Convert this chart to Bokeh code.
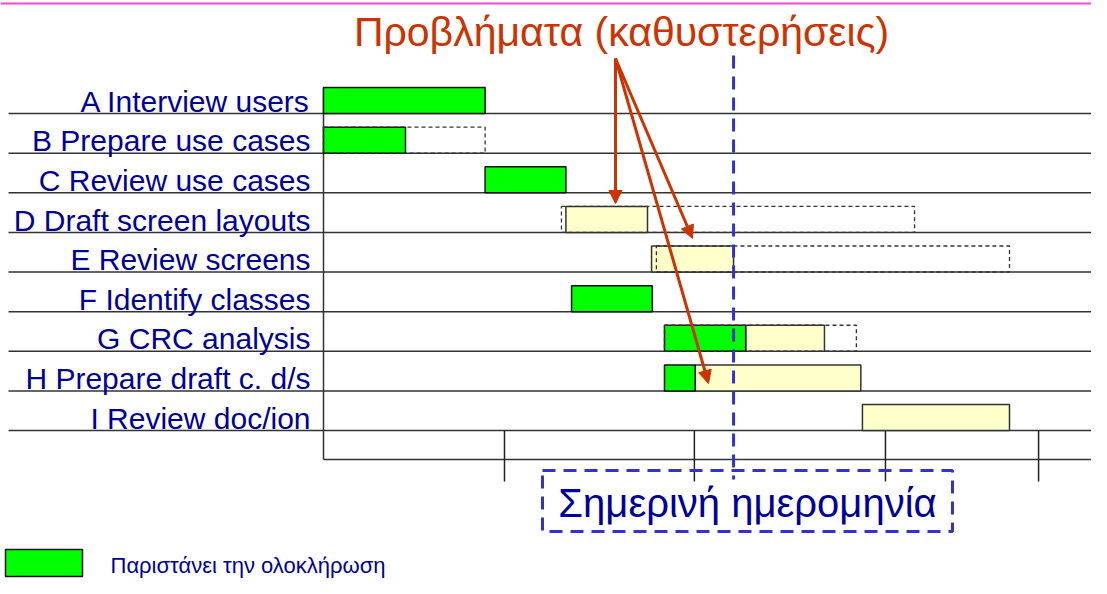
from bokeh.plotting import figure
from bokeh.models import Range1d, ColumnDataSource, Arrow, NormalHead, BoxAnnotation
from bokeh.core.properties import value
from bokeh.embed import file_html
from bokeh.resources import INLINE

# ---------------- data ----------------
tasks = ["A Interview users", "B Prepare use cases", "C Review use cases",
         "D Draft screen layouts", "E Review screens", "F Identify classes",
         "G CRC analysis", "H Prepare draft c. d/s", "I Review doc/ion"]

# time unit: weeks from project start; rows: index into tasks
done_rows = [0, 1, 2, 5, 6, 7]
done_start = [0.0, 0.0, 4.0, 6.14, 8.44, 8.44]
done_end = [4.0, 2.03, 6.0, 8.14, 10.45, 9.2]

late_rows = [3, 4, 6, 7, 8]
late_start = [6.0, 8.12, 10.45, 9.2, 13.34]
late_end = [8.02, 10.15, 12.4, 13.3, 16.98]

plan_rows = [1, 3, 4, 6]
plan_start = [0.0, 5.89, 8.24, 8.44]
plan_end = [4.0, 14.63, 16.98, 13.19]

today = 10.15
period_ticks = [4.48, 9.18, 13.91, 17.7]

title_text = "Προβλήματα (καθυστερήσεις)"
today_text = "Σημερινή ημερομηνία"
legend_text = "Παριστάνει την ολοκλήρωση"

# ---------------- layout ----------------
W, H = 1091, 578
PXW = 40.4      # px per week
PXR = 39.625    # px per row
X0, Y0 = 323, 113   # px of week 0 / row-0 line


def fx(X):
    return (X - X0) / PXW


def fy(Y):
    return (Y - Y0) / PXR


def base(Y, size):
    # compensate for the renderer placing the alphabetic baseline lower
    return fy(Y - 0.31 * size)


BAR_H = 26 / PXR
FONT = value("Liberation Sans")
BLUE_TXT = "#000099"
RED = "#cc3300"
DASH_BLUE = "#3333cc"

p = figure(width=W, height=H, output_backend="svg", toolbar_location=None,
           x_range=Range1d(fx(0), fx(W)), y_range=Range1d(fy(H), fy(0)),
           x_axis_location=None, y_axis_location=None,
           min_border=0, min_border_left=0, min_border_right=0,
           min_border_top=0, min_border_bottom=0,
           background_fill_color="white", border_fill_color="white",
           outline_line_color=None)
p.xgrid.visible = False
p.ygrid.visible = False

rows = list(range(len(tasks)))
scale_bottom = len(tasks) - 1 + 29 / PXR

# pink slide rule at top
p.segment(x0=[fx(0)], x1=[fx(W)], y0=[fy(3)], y1=[fy(3)],
          line_color="#ff44cc", line_width=2)

# row lines
p.segment(x0=[fx(8)] * len(rows), x1=[fx(W)] * len(rows), y0=rows, y1=rows,
          line_color="#333333", line_width=1.5)
# time scale bottom line and left line
p.segment(x0=[0], x1=[fx(W)], y0=[scale_bottom], y1=[scale_bottom],
          line_color="#333333", line_width=1.5)
p.segment(x0=[0], x1=[0], y0=[-BAR_H], y1=[scale_bottom],
          line_color="#333333", line_width=1.5)
# period ticks
p.segment(x0=period_ticks, x1=period_ticks, y0=[rows[-1]] * len(period_ticks),
          y1=[fy(481)] * len(period_ticks), line_color="#222222", line_width=1.5)

# bars
done_src = ColumnDataSource(dict(l=done_start, r=done_end, b=done_rows,
                                 t=[r - BAR_H for r in done_rows]))
late_src = ColumnDataSource(dict(l=late_start, r=late_end, b=late_rows,
                                 t=[r - BAR_H for r in late_rows]))
plan_src = ColumnDataSource(dict(l=plan_start, r=plan_end, b=plan_rows,
                                 t=[r - BAR_H for r in plan_rows]))
p.quad(left="l", right="r", bottom="b", top="t", source=late_src,
       fill_color="#ffffcc", line_color="#333333", line_width=1.5)
p.quad(left="l", right="r", bottom="b", top="t", source=done_src,
       fill_color="#00ff00", line_color="#111111", line_width=1.5)
p.quad(left="l", right="r", bottom="b", top="t", source=plan_src,
       fill_color=None, line_color="#333333", line_width=1.3, line_dash="4 3")

# task labels (baseline ~3px above each row line)
p.text(x=[0] * len(tasks), y=[r + base(Y0 - 3, 30) for r in rows], text=tasks,
       x_offset=-13, text_align="right", text_baseline="alphabetic",
       text_font=FONT, text_font_size="30px", text_color=BLUE_TXT)

# today line
p.segment(x0=[today], x1=[today], y0=[fy(55)], y1=[fy(479)],
          line_color=DASH_BLUE, line_width=3, line_dash="13 8")

# today box + text
p.add_layout(BoxAnnotation(left=fx(542), right=fx(952), top=fy(470), bottom=fy(531),
                           fill_alpha=0, fill_color=None, line_color=DASH_BLUE,
                           line_alpha=1.0, line_width=3, line_dash="13 8"))
p.text(x=[fx(747)], y=[base(515, 40)], text=[today_text], text_align="center",
       text_baseline="alphabetic", text_font=FONT, text_font_size="40px",
       text_color=BLUE_TXT)

# title
p.text(x=[fx(621)], y=[base(44, 41)], text=[title_text], text_align="center",
       text_baseline="alphabetic", text_font=FONT, text_font_size="41px",
       text_color=RED)

# arrows to delayed tasks
arrow_ends = [(fx(615), fy(203)), (fx(692), fy(238)), (fx(708), fy(383))]
for (ex, ey) in arrow_ends:
    p.add_layout(Arrow(x_start=fx(615), y_start=fy(58), x_end=ex, y_end=ey,
                       line_color=RED, line_width=3,
                       end=NormalHead(size=13, fill_color=RED, line_color=RED)))

# legend
p.quad(left=[fx(5)], right=[fx(82)], top=[fy(549)], bottom=[fy(576)],
       fill_color="#00ff00", line_color="#111111", line_width=1.5)
p.text(x=[fx(110)], y=[base(572, 22)], text=[legend_text], text_align="left",
       text_baseline="alphabetic", text_font=FONT, text_font_size="22px",
       text_color=BLUE_TXT)

open("out.html", "w").write(file_html(p, INLINE))
